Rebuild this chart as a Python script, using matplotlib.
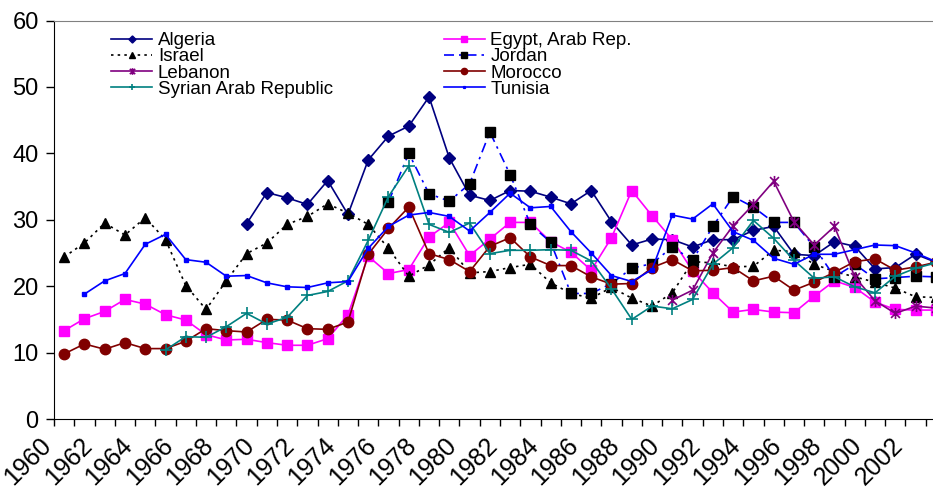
import numpy as np
import matplotlib
matplotlib.use("Agg")
import matplotlib.pyplot as plt
from matplotlib.path import Path
from matplotlib.transforms import ScaledTranslation

plt.rcParams['font.family'] = ['Liberation Sans', 'DejaVu Sans']

years = list(range(1960, 2004))
tick_years = [str(y) for y in range(1960, 2003, 2)]

algeria_start = 1969
algeria = [29.4, 34.1, 33.3, 32.3, 35.9, 30.8, 39.0, 42.6, 44.1, 48.5, 39.3,
           33.7, 32.9, 34.4, 34.3, 33.4, 32.4, 34.4, 29.7, 26.2, 27.1,
           27.0, 25.9, 27.0, 27.0, 28.4, 29.0, 24.8, 24.6, 26.7, 26.0,
           22.6, 22.8, 24.8, 23.6]

egypt_start = 1960
egypt = [13.3, 15.1, 16.2, 18.0, 17.3, 15.7, 14.9, 12.7, 11.9, 12.0,
         11.5, 11.1, 11.1, 12.1, 15.7, 24.5, 21.9, 22.5, 27.4, 29.6,
         24.6, 27.1, 29.6, 29.6, 26.7, 25.1, 22.4, 27.3, 34.4, 30.6,
         27.0, 22.3, 19.0, 16.1, 16.5, 16.1, 16.0, 18.5, 20.8, 19.8,
         17.6, 16.5, 16.4, 16.4]

israel_start = 1960
israel = [24.4, 26.5, 29.5, 27.7, 30.3, 27.0, 20.1, 16.5, 20.8, 24.9,
          26.5, 29.3, 30.5, 32.4, 31.0, 29.3, 25.7, 21.5, 23.2, 25.8,
          22.0, 22.2, 22.8, 23.3, 20.5, 18.9, 18.2, 19.8, 18.2, 17.0,
          19.0, 23.7, 23.5, 22.9, 23.0, 25.4, 25.2, 23.3, 22.2, 21.4,
          20.6, 19.7, 18.4, 18.3]

jordan_start = 1976
jordan = [32.7, 40.0, 33.9, 32.8, 35.4, 43.2, 36.8, 29.3, 26.6, 18.9,
          18.9, 20.4, 22.7, 23.4, 25.9, 23.9, 29.0, 33.5, 31.9, 29.6,
          29.6, 25.9, 21.4, 23.3, 21.1, 21.3, 21.5, 21.4]

lebanon_start = 1990
lebanon = [17.9, 19.4, 25.0, 29.1, 32.3, 35.8, 29.7, 26.2, 29.0, 21.4,
           17.8, 15.9, 17.0, 16.7]

morocco_start = 1960
morocco = [9.8, 11.3, 10.5, 11.5, 10.6, 10.6, 11.7, 13.6, 13.3, 13.1,
           15.0, 14.9, 13.6, 13.5, 14.6, 24.8, 28.7, 31.9, 24.9, 24.0,
           22.2, 26.0, 27.3, 24.4, 23.1, 23.1, 21.4, 20.3, 20.4, 22.8,
           24.0, 22.3, 22.4, 22.8, 20.8, 21.5, 19.4, 20.6, 22.1, 23.7,
           24.1, 22.4, 22.9, 23.6]

syria_start = 1965
syria = [10.4, 12.4, 12.3, 13.9, 15.9, 14.3, 15.3, 18.6, 19.2, 20.8,
         26.9, 33.5, 38.1, 29.3, 28.1, 29.5, 24.9, 25.4, 25.4, 25.5,
         25.4, 23.8, 19.6, 15.0, 17.0, 16.6, 18.0, 23.3, 25.8, 29.9,
         27.2, 23.9, 21.2, 21.4, 19.9, 19.0, 21.5, 22.7, 23.5]

tunisia_start = 1961
tunisia = [18.8, 20.8, 21.9, 26.3, 27.8, 24.0, 23.6, 21.5, 21.6,
           20.5, 19.9, 19.8, 20.5, 20.7, 25.7, 29.0, 30.7, 31.1, 30.5,
           28.3, 31.1, 34.0, 31.8, 32.0, 28.2, 25.0, 21.6, 20.7, 22.5,
           30.7, 30.1, 32.4, 28.2, 26.9, 24.2, 23.3, 24.8, 24.8, 25.5,
           26.2, 26.1, 25.0, 23.7]

star = Path([(-1, -1), (1, 1), (-1, 1), (1, -1), (0, -1.25), (0, 1.25)],
            [Path.MOVETO, Path.LINETO, Path.MOVETO, Path.LINETO, Path.MOVETO, Path.LINETO])

series = [
    ("Algeria", algeria_start, algeria, dict(color="#000080", ls="-", marker="D", ms=6, mfc="#000080", mec="#000080")),
    ("Egypt, Arab Rep.", egypt_start, egypt, dict(color="#FF00FF", ls="-", marker="s", ms=7, mfc="#FF00FF", mec="#FF00FF")),
    ("Israel", israel_start, israel, dict(color="black", ls=(0, (1.5, 2.5)), marker="^", ms=7.5, mfc="black", mec="black")),
    ("Jordan", jordan_start, jordan, dict(color="#0000FF", ls=(0, (6, 3, 1.5, 3)), marker="s", ms=7, mfc="black", mec="black")),
    ("Lebanon", lebanon_start, lebanon, dict(color="#800080", ls="-", marker=star, ms=8, mfc="none", mec="#800080", mew=1.2)),
    ("Morocco", morocco_start, morocco, dict(color="#800000", ls="-", marker="o", ms=7.5, mfc="#800000", mec="#800000")),
    ("Syrian Arab Republic", syria_start, syria, dict(color="#008080", ls="-", marker="+", ms=8, mfc="#008080", mec="#008080", mew=1.2)),
    ("Tunisia", tunisia_start, tunisia, dict(color="#0000FF", ls="-", marker="s", ms=2.2, mfc="#0000FF", mec="#0000FF")),
]

fig = plt.figure(figsize=(9.33, 4.9), dpi=100)
W, H = 933.0, 490.0
ax = fig.add_axes([54 / W, (H - 419) / H, 892 / W, 398.5 / H])

handles = {}
for name, start, vals, st in series:
    xs = np.arange(len(vals)) + (start - 1960) + 0.5
    ln, = ax.plot(xs, vals, lw=1.2, label=name, **st)
    handles[name] = ln

ax.set_xlim(0, len(years))
ax.set_ylim(0, 60)
ax.set_yticks(range(0, 61, 10))
ax.tick_params(axis='y', direction='out', length=6, width=1, labelsize=17, pad=5)

ax.set_xticks(np.arange(0, len(years) + 1), minor=True)
ax.set_xticks(np.arange(0, len(years), 2) + 0.5)
ax.set_xticklabels(tick_years, rotation=45, ha='right', va='top', rotation_mode='anchor')
ax.tick_params(axis='x', which='major', length=0, labelsize=18, pad=10)
ax.tick_params(axis='x', which='minor', direction='out', length=5, width=1)
off = ScaledTranslation(-25 / 100, 0 / 100, fig.dpi_scale_trans)
for lbl in ax.get_xticklabels():
    lbl.set_transform(lbl.get_transform() + off)

ax.spines['top'].set_color('#808080')
ax.spines['right'].set_visible(False)
ax.spines['left'].set_color('black')
ax.spines['bottom'].set_color('black')

order = ["Algeria", "Israel", "Lebanon", "Syrian Arab Republic",
         "Egypt, Arab Rep.", "Jordan", "Morocco", "Tunisia"]
leg = fig.legend([handles[n] for n in order], order, ncol=2, loc='upper left',
                 bbox_to_anchor=(111 / W, 1 - 32 / H), frameon=False,
                 fontsize=13.5, markerscale=0.6, handlelength=2.2,
                 handletextpad=0.3, labelspacing=-0.05, columnspacing=5.9,
                 borderpad=0, borderaxespad=0)

fig.savefig("out.png", dpi=100)
